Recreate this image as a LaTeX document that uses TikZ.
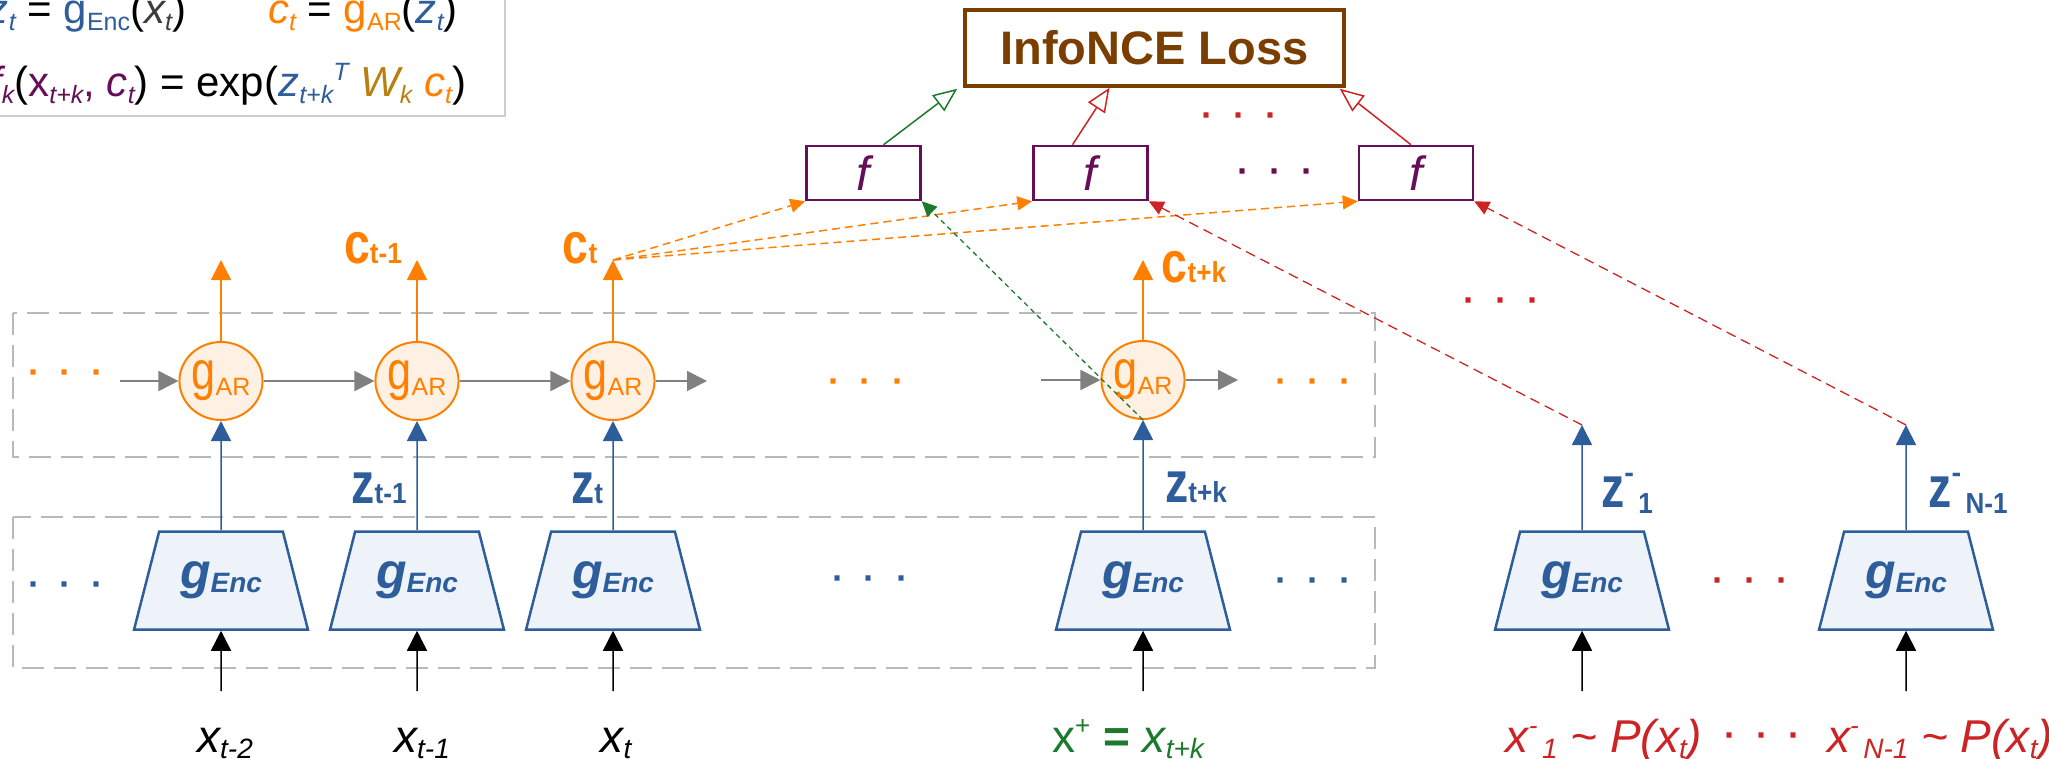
\documentclass[tikz,border=0pt]{standalone}
\usepackage{fontspec}
\setmainfont{Liberation Sans}
\usepackage{graphicx}
\usetikzlibrary{arrows.meta,shapes.geometric,calc}

\definecolor{encblue}{RGB}{46,93,156}
\definecolor{encfill}{RGB}{238,243,250}
\definecolor{arorange}{RGB}{255,128,0}
\definecolor{arfill}{RGB}{254,241,228}
\definecolor{fpurple}{RGB}{102,14,88}
\definecolor{lossbrown}{RGB}{122,63,0}
\definecolor{posgreen}{RGB}{27,122,43}
\definecolor{negred}{RGB}{204,36,36}
\definecolor{wgold}{RGB}{184,128,16}
\definecolor{flowgray}{RGB}{128,128,128}
\definecolor{framegray}{RGB}{185,185,185}
\definecolor{legendgray}{RGB}{205,205,205}
\definecolor{inkgray}{RGB}{60,60,60}

% font size helper
\newcommand{\fs}[1]{\fontsize{#1}{#1}\selectfont}
% horizontally condensed box
\newcommand{\cnd}[2]{\scalebox{#1}[1]{#2}}
% lowered / raised small text
\newcommand{\sub}[1]{\raisebox{-7pt}{\fs{25}#1}}
\newcommand{\sups}[1]{\raisebox{16pt}{\fs{25}#1}}
% bold labels on the arrows (c, z)
\newcommand{\bigsub}[2]{\cnd{0.8}{\fs{58}\bfseries #1}\cnd{0.9}{\fs{29}\bfseries #2}}
\newcommand{\negz}[1]{\cnd{0.8}{\fs{58}\bfseries z}\raisebox{25pt}{\fs{29}\bfseries -}\raisebox{-6pt}{\cnd{0.9}{\fs{29}\bfseries\,#1}}}
% module labels
\newcommand{\garlabel}{\cnd{0.8}{\fs{54}g}\raisebox{-6pt}{\fs{25}AR}}
\newcommand{\genclabel}{\fs{50}\bfseries\itshape g\raisebox{-4pt}{\fs{28}Enc}}
% input labels
\newcommand{\xlab}[1]{\fs{46}\itshape x\raisebox{-6pt}{\fs{28}#1}}
\newcommand{\ddd}{·\hspace{20pt}·\hspace{20pt}·}

\begin{document}
\begin{tikzpicture}[x=1pt,y=-1pt,
  txt/.style={inner sep=0pt, outer sep=0pt},
  legendframe/.style={draw=legendgray, line width=2pt},
  bandframe/.style={draw=framegray, line width=1.5pt, dash pattern=on 22pt off 10pt},
  ar/.style={ellipse, draw=arorange, fill=arfill, line width=2pt, minimum width=76pt,
    minimum height=78pt, inner sep=0pt, text=arorange},
  enc/.style={trapezium, trapezium left angle=66, trapezium right angle=66,
    trapezium stretches=true, minimum width=174pt, minimum height=98pt,
    draw=encblue, fill=encfill, line width=2.5pt, inner sep=0pt, text=encblue},
  fbox/.style={draw=fpurple, line width=2.5pt, fill=white, minimum width=114pt,
    minimum height=54pt, inner sep=0pt, text=fpurple, font=\fs{48}\itshape},
  loss/.style={draw=lossbrown, line width=3.5pt, fill=white, minimum width=379pt,
    minimum height=76pt, inner sep=0pt, text=lossbrown, font=\fs{47}\bfseries},
  tip/.style={-{Triangle[width=20pt,length=20pt]}},
  smalltip/.style={-{Triangle[width=14pt,length=15pt]}},
  opentip/.style={-{Triangle[open,width=20pt,length=24pt]}},
  chain/.style={tip, draw=flowgray, line width=1.8pt},
  upar/.style={tip, draw=arorange, line width=1.5pt},
  upenc/.style={tip, draw=encblue, line width=1.5pt},
  upin/.style={tip, draw=black, line width=1.5pt},
  ctxdash/.style={smalltip, draw=arorange, line width=1.5pt, dash pattern=on 8pt off 5pt},
  posdash/.style={smalltip, draw=posgreen, line width=1.3pt, dash pattern=on 5pt off 4pt},
  negdash/.style={smalltip, draw=negred, line width=1.3pt, dash pattern=on 10pt off 6pt},
  toloss/.style={opentip, line width=1.5pt},
  dots/.style={txt, font=\fs{36}\bfseries}
]
\useasboundingbox (0,0) rectangle (2049,759);
\clip (0,0) rectangle (2049,759);

% ---------- legend (formulas) ----------
\draw[legendframe] (-30,-30) rectangle (505,116);
\node[txt, anchor=base east] (lgA) at (186,24) {\fs{42}\textcolor{encblue}{\itshape z\sub{t}} = \textcolor{encblue}{g\sub{Enc}}(\textcolor{inkgray}{\itshape x\sub{t}})};
\node[txt, anchor=base west] (lgB) at (268,24) {\fs{42}\textcolor{arorange}{\itshape c\sub{t}} = \textcolor{arorange}{g\sub{AR}}(\textcolor{encblue}{\itshape z\sub{t}})};
\node[txt, anchor=base east] (lgC) at (466,97) {\fs{42}\textcolor{fpurple}{\itshape f\sub{k}}(\textcolor{fpurple}{x\sub{\itshape t+k}, \itshape c\sub{t}}) = exp(\textcolor{encblue}{\itshape z\sub{t+k}\sups{T}} \textcolor{wgold}{\itshape W\sub{k}} \textcolor{arorange}{\itshape c\sub{t}})};

% ---------- dashed bands ----------
\draw[bandframe] (13,313) rectangle (1375,457);
\draw[bandframe] (13,517) rectangle (1375,668);

% ---------- loss and scoring functions ----------
\node[loss] (loss) at (1154.5,48) {InfoNCE Loss};
\node[fbox] (f1) at (863.5,173) {f};
\node[fbox] (f2) at (1090.5,173) {f};
\node[fbox] (f3) at (1416,173) {f};

% ---------- autoregressive modules ----------
\node[ar] (a1) at (221,381) {\garlabel};
\node[ar] (a2) at (417,381) {\garlabel};
\node[ar] (a3) at (613,381) {\garlabel};
\node[ar] (a4) at (1143,380) {\garlabel};

% ---------- encoders ----------
\node[enc] (e1) at (221,580.5) {\genclabel};
\node[enc] (e2) at (417,580.5) {\genclabel};
\node[enc] (e3) at (613,580.5) {\genclabel};
\node[enc] (e4) at (1143,580.5) {\genclabel};
\node[enc] (e5) at (1582,580.5) {\genclabel};
\node[enc] (e6) at (1906,580.5) {\genclabel};

% ---------- free ends ----------
\coordinate (in1) at (221,691);
\coordinate (in2) at (417,691);
\coordinate (in3) at (613,691);
\coordinate (in4) at (1143,691);
\coordinate (in5) at (1582,691);
\coordinate (in6) at (1906,691);
\coordinate (c1) at (221,260);
\coordinate (c2) at (417,260);
\coordinate (c3) at (613,260);
\coordinate (c4) at (1143,260);
\coordinate (n1) at (1582,425);
\coordinate (n2) at (1906,425);
\coordinate (l0) at (120,381);
\coordinate (r3) at (707,381);
\coordinate (l4) at (1041,380);
\coordinate (r4) at (1238,380);

% ---------- recurrent chain ----------
\draw[chain] (l0) -- (a1.west);
\draw[chain] (a1.east) -- (a2.west);
\draw[chain] (a2.east) -- (a3.west);
\draw[chain] (a3.east) -- (r3);
\draw[chain] (l4) -- (a4.west);
\draw[chain] (a4.east) -- (r4);

% ---------- context outputs ----------
\draw[upar] (a1.north) -- (c1);
\draw[upar] (a2.north) -- (c2);
\draw[upar] (a3.north) -- (c3);
\draw[upar] (a4.north) -- (c4);

% ---------- latent codes ----------
\draw[upenc] (e1.north) -- (a1.south);
\draw[upenc] (e2.north) -- (a2.south);
\draw[upenc] (e3.north) -- (a3.south);
\draw[upenc] (e4.north) -- (a4.south);
\draw[upenc] (e5.north) -- (n1);
\draw[upenc] (e6.north) -- (n2);

% ---------- inputs ----------
\draw[upin] (in1) -- (e1.south);
\draw[upin] (in2) -- (e2.south);
\draw[upin] (in3) -- (e3.south);
\draw[upin] (in4) -- (e4.south);
\draw[upin] (in5) -- (e5.south);
\draw[upin] (in6) -- (e6.south);

% ---------- scoring pairs ----------
\draw[ctxdash] (c3) -- (f1.south west);
\draw[ctxdash] (c3) -- (f2.south west);
\draw[ctxdash] (c3) -- (f3.south west);
\draw[posdash] (a4.south) -- (f1.south east);
\draw[negdash] (n1) -- (f2.south east);
\draw[negdash] (n2) -- (f3.south east);

% ---------- scores into the loss ----------
\draw[toloss, draw=posgreen] ($(f1.north)+(20,0)$) -- ($(loss.south west)+(-6,1)$);
\draw[toloss, draw=negred] ($(f2.north)+(-18,0)$) -- ($(loss.south)+(-45,0)$);
\draw[toloss, draw=negred] ($(f3.north)+(-5,0)$) -- ($(loss.south east)+(-6,1)$);

% ---------- labels ----------
\node[txt, anchor=base, text=arorange] (lc1) at (373,263) {\bigsub{c}{t-1}};
\node[txt, anchor=base, text=arorange] (lc2) at (580,263) {\bigsub{c}{t}};
\node[txt, anchor=base, text=arorange] (lc3) at (1194,282) {\bigsub{c}{t+k}};
\node[txt, anchor=base, text=encblue] (lz1) at (379,503) {\bigsub{z}{t-1}};
\node[txt, anchor=base, text=encblue] (lz2) at (587,503) {\bigsub{z}{t}};
\node[txt, anchor=base, text=encblue] (lz3) at (1196,502) {\bigsub{z}{t+k}};
\node[txt, anchor=base, text=encblue] (lz4) at (1627,507) {\negz{1}};
\node[txt, anchor=base, text=encblue] (lz5) at (1968,507) {\negz{N-1}};

\node[txt, anchor=base] (lx1) at (225,752) {\xlab{t-2}};
\node[txt, anchor=base] (lx2) at (422,752) {\xlab{t-1}};
\node[txt, anchor=base] (lx3) at (616,752) {\xlab{t}};
\node[txt, anchor=base, text=posgreen] (lx4) at (1128,752) {\fs{46}x\raisebox{18pt}{\fs{26}+} \textbf{=} \itshape x\raisebox{-6pt}{\fs{28}t+k}};
\node[txt, anchor=base, text=negred] (lx5) at (1604,752) {\fs{46}\itshape x\raisebox{18pt}{\fs{26}-}\raisebox{-6pt}{\fs{28}\,1} \textasciitilde\ P(x\raisebox{-6pt}{\fs{28}t})};
\node[txt, anchor=base, text=negred] (lx6) at (1940,752) {\fs{46}\itshape x\raisebox{18pt}{\fs{26}-}\raisebox{-6pt}{\fs{28}\,N-1} \textasciitilde\ P(x\raisebox{-6pt}{\fs{28}t})};

% ---------- ellipses ----------
\node[dots, text=arorange] (d1) at (66,377) {\ddd};
\node[dots, text=encblue] (d2) at (66,589) {\ddd};
\node[dots, text=arorange] (d3) at (866,386) {\ddd};
\node[dots, text=encblue] (d4) at (870,583) {\ddd};
\node[dots, text=arorange] (d5) at (1313,386) {\ddd};
\node[dots, text=encblue] (d6) at (1313,585) {\ddd};
\node[dots, text=negred] (d7) at (1750,585) {\ddd};
\node[dots, text=negred] (d8) at (1762,740) {\ddd};
\node[dots, text=negred] (d9) at (1501,305) {\ddd};
\node[dots, text=negred] (d10) at (1239,120) {\ddd};
\node[dots, text=fpurple] (d11) at (1275,176) {\ddd};
\end{tikzpicture}
\end{document}
